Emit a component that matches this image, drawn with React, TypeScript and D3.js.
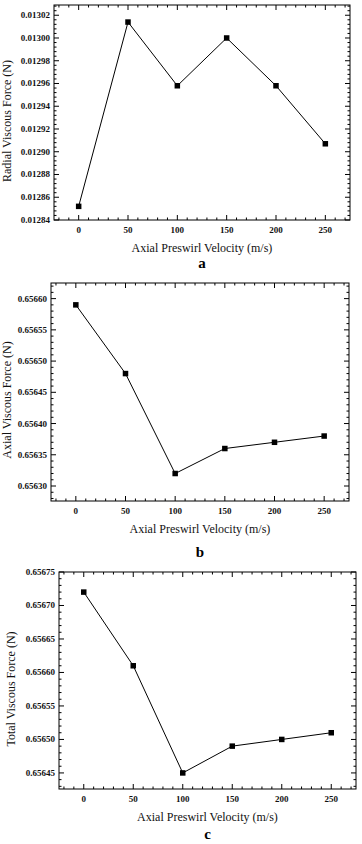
import React from "react";
import * as d3 from "d3";

const velocity = [0, 50, 100, 150, 200, 250];
const xTicks = [0, 50, 100, 150, 200, 250];

const radialForce = [0.012852, 0.013014, 0.012958, 0.0130, 0.012958, 0.012907];
const axialForce = [0.65659, 0.65648, 0.65632, 0.65636, 0.65637, 0.65638];
const totalForce = [0.65672, 0.65661, 0.65645, 0.65649, 0.6565, 0.65651];

const radialTicks = [0.01284, 0.01286, 0.01288, 0.0129, 0.01292, 0.01294, 0.01296, 0.01298, 0.013, 0.01302];
const axialTicks = [0.6563, 0.65635, 0.6564, 0.65645, 0.6565, 0.65655, 0.6566];
const totalTicks = [0.65645, 0.6565, 0.65655, 0.6566, 0.65665, 0.6567, 0.65675];

const font = "'Liberation Serif', 'Times New Roman', serif";

type PanelProps = {
  box: { left: number; top: number; right: number; bottom: number };
  yDomain: [number, number];
  values: number[];
  yTicks: number[];
  digits: number;
  yTitle: string;
  titleX: number;
  titleCy: number;
  xTitleY: number;
  letter: string;
  letterY: number;
};

function Panel(p: PanelProps) {
  const { left, top, right, bottom } = p.box;
  const x = d3.scaleLinear().domain([-25, 275]).range([left, right]);
  const y = d3.scaleLinear().domain(p.yDomain).range([bottom, top]);

  const xMinor = d3.range(-20, 275, 10).filter((v) => v % 50 !== 0);
  const step = p.yTicks[1] - p.yTicks[0];
  const yMinor: number[] = [];
  for (let i = -1; i < p.yTicks.length; i++) {
    for (let k = 1; k < 5; k++) {
      const v = p.yTicks[0] + i * step + (k * step) / 5;
      if (v > p.yDomain[0] && v < p.yDomain[1]) yMinor.push(v);
    }
  }

  const line = d3
    .line<number>()
    .x((_, i) => x(velocity[i]))
    .y((d) => y(d));

  const major = 5;
  const minor = 2.5;

  return (
    <g>
      <rect x={left} y={top} width={right - left} height={bottom - top} fill="none" stroke="#000" strokeWidth={1} />
      {xTicks.map((t) => (
        <g key={"xt" + t}>
          <line x1={x(t)} x2={x(t)} y1={bottom} y2={bottom - major} stroke="#000" />
          <line x1={x(t)} x2={x(t)} y1={top} y2={top + major} stroke="#000" />
          <text x={x(t)} y={bottom + 13} textAnchor="middle" fontSize={9} fontWeight="bold" fill="#111" fontFamily={font}>
            {t}
          </text>
        </g>
      ))}
      {xMinor.map((t) => (
        <g key={"xm" + t}>
          <line x1={x(t)} x2={x(t)} y1={bottom} y2={bottom - minor} stroke="#000" />
          <line x1={x(t)} x2={x(t)} y1={top} y2={top + minor} stroke="#000" />
        </g>
      ))}
      {p.yTicks.map((t) => (
        <g key={"yt" + t}>
          <line x1={left} x2={left + major} y1={y(t)} y2={y(t)} stroke="#000" />
          <line x1={right} x2={right - major} y1={y(t)} y2={y(t)} stroke="#000" />
          <text x={left - 4} y={y(t) + 3} textAnchor="end" fontSize={9} fontWeight="bold" fill="#111" fontFamily={font}>
            {t.toFixed(p.digits)}
          </text>
        </g>
      ))}
      {yMinor.map((t, i) => (
        <g key={"ym" + i}>
          <line x1={left} x2={left + minor} y1={y(t)} y2={y(t)} stroke="#000" />
          <line x1={right} x2={right - minor} y1={y(t)} y2={y(t)} stroke="#000" />
        </g>
      ))}
      <path d={line(p.values) || ""} fill="none" stroke="#000" strokeWidth={1} />
      {p.values.map((v, i) => (
        <rect key={"m" + i} x={x(velocity[i]) - 2.75} y={y(v) - 2.75} width={5.5} height={5.5} fill="#000" />
      ))}
      <text
        transform={`translate(${p.titleX},${p.titleCy}) rotate(-90)`}
        textAnchor="middle"
        fontSize={12}
        fill="#111"
        fontFamily={font}
      >
        {p.yTitle}
      </text>
      <text x={(left + right) / 2} y={p.xTitleY} textAnchor="middle" fontSize={12} fill="#111" fontFamily={font}>
        Axial Preswirl Velocity (m/s)
      </text>
      <text x={(left + right) / 2} y={p.letterY} textAnchor="middle" fontSize={15} fontWeight="bold" fill="#000" fontFamily={font}>
        {p.letter}
      </text>
    </g>
  );
}

export default function App() {
  return (
    <svg width={362} height={844} style={{ position: "absolute", left: 0, top: 0, background: "#fff" }}>
      <rect width={362} height={844} fill="#fff" />
      <Panel
        box={{ left: 54, top: 5, right: 350, bottom: 220 }}
        yDomain={[0.01284, 0.013029]}
        values={radialForce}
        yTicks={radialTicks}
        digits={5}
        yTitle="Radial Viscous Force (N)"
        titleX={11}
        titleCy={121}
        xTitleY={252}
        letter="a"
        letterY={268}
      />
      <Panel
        box={{ left: 51, top: 283, right: 349, bottom: 501 }}
        yDomain={[0.656276, 0.656625]}
        values={axialForce}
        yTicks={axialTicks}
        digits={5}
        yTitle="Axial Viscous Force (N)"
        titleX={11}
        titleCy={400}
        xTitleY={533}
        letter="b"
        letterY={557}
      />
      <Panel
        box={{ left: 59, top: 572, right: 356, bottom: 789 }}
        yDomain={[0.656426, 0.65675]}
        values={totalForce}
        yTicks={totalTicks}
        digits={5}
        yTitle="Total Viscous Force (N)"
        titleX={15}
        titleCy={689}
        xTitleY={821}
        letter="c"
        letterY={839}
      />
    </svg>
  );
}
